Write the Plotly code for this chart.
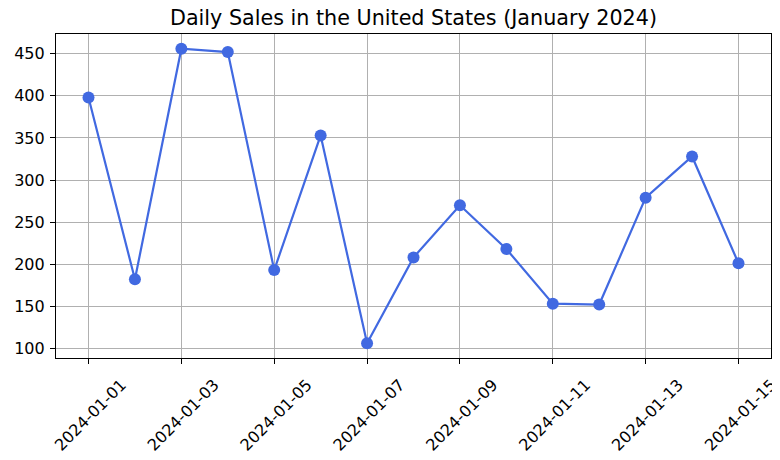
import plotly.graph_objects as go

dates = ["2024-01-01", "2024-01-02", "2024-01-03", "2024-01-04", "2024-01-05",
         "2024-01-06", "2024-01-07", "2024-01-08", "2024-01-09", "2024-01-10",
         "2024-01-11", "2024-01-12", "2024-01-13", "2024-01-14", "2024-01-15"]
sales = [398, 182, 456, 452, 193, 353, 106, 208, 270, 218, 153, 152, 279, 328, 201]
tick_dates = ["2024-01-01", "2024-01-03", "2024-01-05", "2024-01-07",
              "2024-01-09", "2024-01-11", "2024-01-13", "2024-01-15"]
y_ticks = [100, 150, 200, 250, 300, 350, 400, 450]
title = "Daily Sales in the United States (January 2024)"

FONT = "DejaVu Sans"

fig = go.Figure()
fig.add_trace(go.Scatter(
    x=dates, y=sales, mode="lines+markers",
    line=dict(color="#4169E1", width=2.2),
    marker=dict(color="#4169E1", size=12),
    showlegend=False,
))

# the page body adds an 8px offset, so margins compensate
fig.update_layout(
    width=780, height=460,
    margin=dict(l=48, r=17, t=26, b=110),
    paper_bgcolor="white", plot_bgcolor="white",
    font=dict(family=FONT, size=16, color="black"),
    title=dict(text=title, x=0.5, xref="paper", xanchor="center",
               y=1 - 2 / 460, yref="container", yanchor="top", pad=dict(t=0, b=0),
               font=dict(family=FONT, size=20.7, color="black")),
)

fig.update_xaxes(
    type="date", automargin=False,
    range=["2023-12-31 07:12", "2024-01-15 16:48"],
    tickvals=tick_dates, ticktext=tick_dates,
    tickangle=-45, ticks="outside", ticklen=5, tickcolor="black",
    ticklabelshift=33, ticklabelstandoff=5,
    showgrid=True, gridcolor="#b0b0b0", gridwidth=1,
    showline=True, linecolor="black", linewidth=1.2, mirror=True,
    zeroline=False,
)
fig.update_yaxes(
    automargin=False,
    range=[88.5, 473.5],
    tickvals=y_ticks,
    ticks="outside", ticklen=5, tickcolor="black", ticklabelstandoff=2,
    showgrid=True, gridcolor="#b0b0b0", gridwidth=1,
    showline=True, linecolor="black", linewidth=1.2, mirror=True,
    zeroline=False,
)

fig.write_html("out.html")
